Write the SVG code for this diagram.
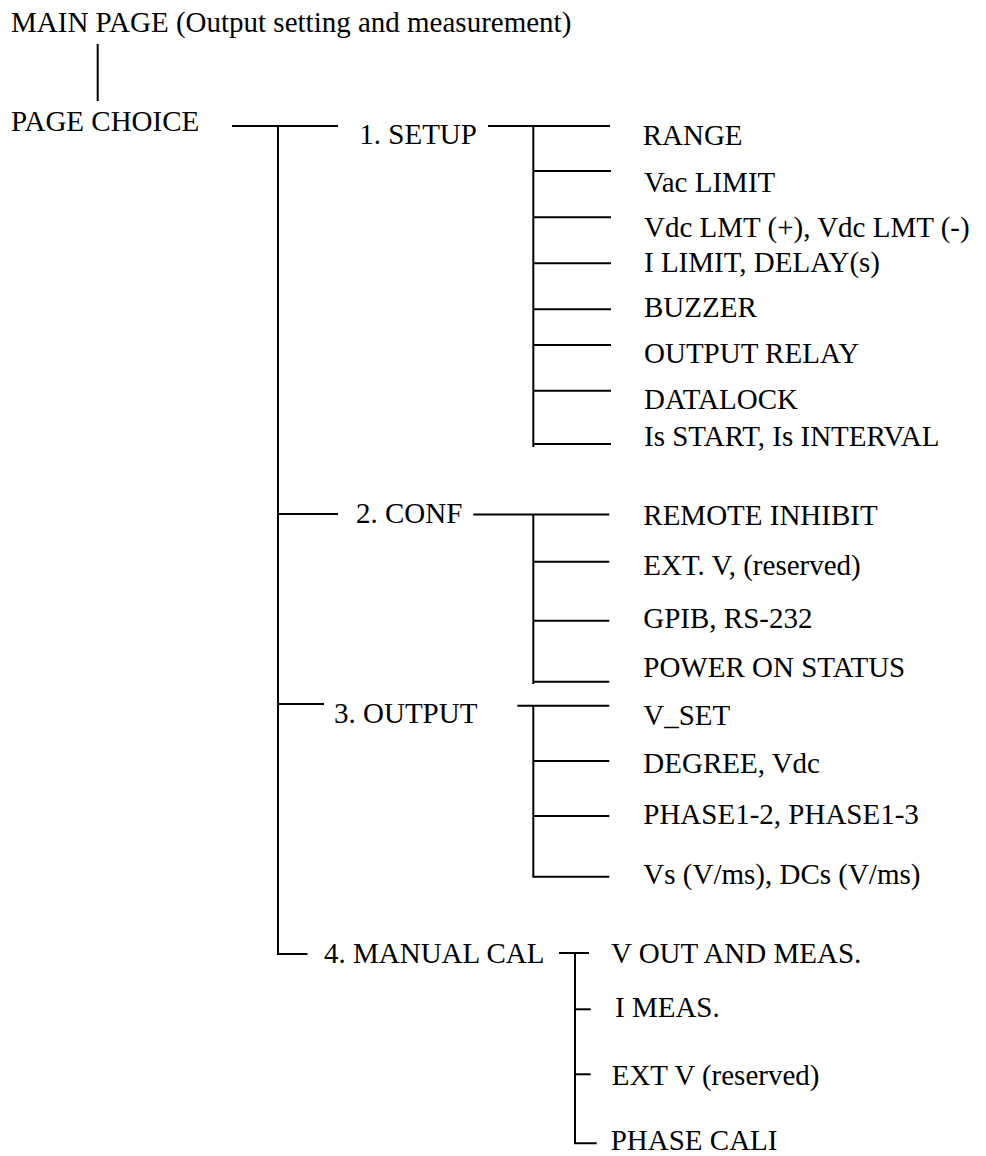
<svg xmlns="http://www.w3.org/2000/svg" width="986" height="1156" viewBox="0 0 986 1156">
<style>
text{font-family:"Liberation Serif","Times New Roman",serif;font-size:29px;fill:#000}
.c line,.c polyline{stroke:#000;stroke-width:2;fill:none}
</style>
<rect width="986" height="1156" fill="#fff"/>
<g class="c" id="connectors">
<line x1="97.7" y1="44" x2="97.7" y2="101"/>
<line x1="232" y1="126" x2="338" y2="126"/>
<polyline points="278,126 278,954 307.5,954"/>
<line x1="278" y1="514" x2="338" y2="514"/>
<line x1="278" y1="704" x2="324" y2="704"/>
<line x1="488" y1="126" x2="610" y2="126"/>
<line x1="533.3" y1="126" x2="533.3" y2="447"/>
<line x1="533.3" y1="171" x2="611" y2="171"/>
<line x1="533.3" y1="217.3" x2="611" y2="217.3"/>
<line x1="533.3" y1="263.3" x2="611" y2="263.3"/>
<line x1="533.3" y1="309.3" x2="611" y2="309.3"/>
<line x1="533.3" y1="345" x2="611" y2="345"/>
<line x1="533.3" y1="390.7" x2="611" y2="390.7"/>
<line x1="533.3" y1="444" x2="611" y2="444"/>
<line x1="473.3" y1="514.5" x2="609.3" y2="514.5"/>
<line x1="533.3" y1="514.5" x2="533.3" y2="684"/>
<line x1="533.3" y1="561.7" x2="609.3" y2="561.7"/>
<line x1="533.3" y1="620.7" x2="609.3" y2="620.7"/>
<line x1="533.3" y1="681.7" x2="609.3" y2="681.7"/>
<line x1="517.3" y1="705.7" x2="609.3" y2="705.7"/>
<polyline points="533.3,705.7 533.3,876.7 609.3,876.7"/>
<line x1="533.3" y1="761" x2="609.3" y2="761"/>
<line x1="533.3" y1="816" x2="609.3" y2="816"/>
<line x1="559" y1="953" x2="589" y2="953"/>
<polyline points="575,953 575,1143.3 596.7,1143.3"/>
<line x1="575" y1="1009.3" x2="590.7" y2="1009.3"/>
<line x1="575" y1="1074.3" x2="590.7" y2="1074.3"/>
</g>
<g id="main"><text x="11" y="32.3">MAIN PAGE (Output setting and measurement)</text></g>
<g id="pagechoice"><text x="11" y="131">PAGE CHOICE</text></g>
<g id="setup"><text x="359.3" y="144.3">1. SETUP</text></g>
<g id="conf"><text x="356" y="523.3">2. CONF</text></g>
<g id="output"><text x="334" y="723.3">3. OUTPUT</text></g>
<g id="manualcal"><text x="324" y="963.3">4. MANUAL CAL</text></g>
<g id="range"><text x="642.7" y="145">RANGE</text></g>
<g id="vaclimit"><text x="644" y="191.7">Vac LIMIT</text></g>
<g id="vdclmt"><text x="644" y="237">Vdc LMT (+), Vdc LMT (-)</text></g>
<g id="ilimit"><text x="644" y="271.7">I LIMIT, DELAY(s)</text></g>
<g id="buzzer"><text x="644" y="316.7">BUZZER</text></g>
<g id="outputrelay"><text x="644" y="363">OUTPUT RELAY</text></g>
<g id="datalock"><text x="644" y="409">DATALOCK</text></g>
<g id="isstart"><text x="644" y="446">Is START, Is INTERVAL</text></g>
<g id="remote"><text x="643.3" y="525">REMOTE INHIBIT</text></g>
<g id="extv"><text x="643.3" y="575">EXT. V, (reserved)</text></g>
<g id="gpib"><text x="643.3" y="628.3">GPIB, RS-232</text></g>
<g id="poweron"><text x="643.3" y="676.7">POWER ON STATUS</text></g>
<g id="vset"><text x="643.3" y="725">V_SET</text></g>
<g id="degree"><text x="643.3" y="773.3">DEGREE, Vdc</text></g>
<g id="phase"><text x="643.3" y="824">PHASE1-2, PHASE1-3</text></g>
<g id="vs"><text x="643.3" y="884">Vs (V/ms), DCs (V/ms)</text></g>
<g id="voutmeas"><text x="611" y="963.3">V OUT AND MEAS.</text></g>
<g id="imeas"><text x="615" y="1017.3">I MEAS.</text></g>
<g id="extvres"><text x="611.7" y="1085">EXT V (reserved)</text></g>
<g id="phasecali"><text x="610.7" y="1150">PHASE CALI</text></g>
</svg>
